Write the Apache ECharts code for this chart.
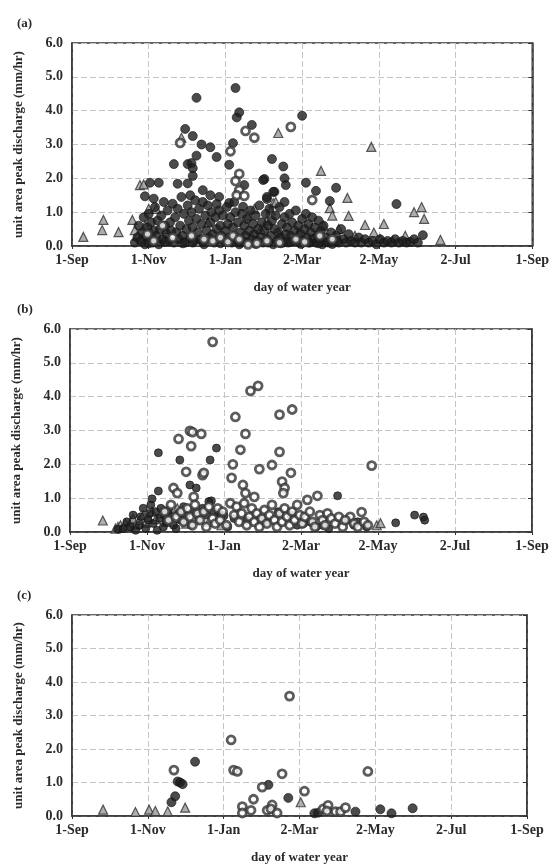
<!DOCTYPE html>
<html>
<head>
<meta charset="utf-8">
<script src="https://cdn.jsdelivr.net/npm/echarts@6/dist/echarts.min.js"></script>
<style>
  html, body { margin: 0; padding: 0; background: #fff; }
  #chart { width: 552px; height: 865px; }
</style>
</head>
<body>
<div id="chart"></div>
<script>
// x axis: day of water year, ticks every 61 days
const xTickLabels = ['1-Sep', '1-Nov', '1-Jan', '2-Mar', '2-May', '2-Jul', '1-Sep'];
const panelLabels = ['(a)', '(b)', '(c)'];

// panel (a) [day, mm/hr]
const aFilled = [
    [62,1.87],[69,1.87],[58,1.47],[65,1.4],[81,2.42],[90,3.46],[96,3.25],[99,4.38],[103,3.0],[110,2.92],
    [115,2.63],[92,2.42],[95,2.45],[96,2.3],[99,2.67],[96,2.07],[92,1.85],[125,2.4],[128,3.04],[130,4.67],
    [131,3.8],[133,3.95],[143,3.58],[137,1.8],[153,1.98],[159,2.57],[183,3.85],[168,2.35],[169,2.0],[170,1.8],
    [152,1.95],[186,1.87],[161,1.6],[194,1.63],[210,1.72],[205,1.33],[155,1.39],[169,1.3],[258,1.24],[279,0.32],
    [84,1.84],[94,1.5],[104,1.65],[110,1.5],[117,1.45],[115,1.24],[125,1.27],[129,1.3],[136,1.16],[155,1.45],[160,1.6],
    [50,0.1],[52,0.25],[53,0.6],[55,0.15],[56,0.4],[57,0.85],[58,0.05],[59,0.3],[60,0.55],[61,0.95],
    [62,0.2],[63,0.7],[64,0.1],[65,0.45],[66,1.15],[67,0.3],[68,0.75],[69,0.05],[70,0.5],[71,0.9],
    [72,0.2],[73,1.3],[74,0.6],[75,0.35],[76,1.05],[77,0.15],[78,0.7],[79,0.45],[80,1.25],[81,0.1],
    [82,0.85],[83,0.4],[84,1.1],[85,0.2],[86,0.6],[87,1.45],[88,0.3],[89,0.95],[90,0.1],[91,0.5],
    [92,1.2],[93,0.75],[94,0.25],[95,1.0],[96,0.55],[97,0.15],[98,1.35],[99,0.8],[100,0.4],[101,1.1],
    [102,0.2],[103,0.65],[104,1.3],[105,0.05],[106,0.9],[107,0.45],[108,1.2],[109,0.25],[110,0.7],[111,1.0],
    [112,0.35],[113,0.1],[114,0.85],[115,0.5],[116,0.2],[117,1.05],[118,0.6],[119,0.3],[120,0.9],[121,0.15],
    [122,0.45],[123,1.15],[124,0.65],[125,0.25],[126,0.85],[127,0.1],[128,0.55],[129,0.3],[130,1.0],[131,0.2],
    [132,0.7],[133,0.05],[134,0.4],[135,0.95],[136,0.15],[137,0.6],[138,0.3],[139,0.8],[140,0.1],[141,0.45],
    [142,1.05],[143,0.2],[144,0.65],[145,0.35],[146,0.9],[147,0.15],[148,0.5],[149,1.2],[150,0.25],[151,0.7],
    [152,0.1],[153,0.45],[154,0.95],[155,0.2],[156,0.6],[157,1.1],[158,0.3],[159,0.75],[160,0.05],[161,0.5],
    [162,0.9],[163,0.15],[164,0.4],[165,1.15],[166,0.25],[167,0.65],[168,0.1],[169,0.85],[170,0.35],[171,0.55],
    [172,0.1],[173,0.95],[174,0.3],[175,0.7],[176,0.15],[177,0.45],[178,1.05],[179,0.2],[180,0.6],[181,0.1],
    [182,0.35],[183,0.8],[184,0.15],[185,0.5],[186,0.95],[187,0.25],[188,0.65],[189,0.1],[190,0.4],[191,0.85],
    [192,0.2],[193,0.55],[194,0.1],[195,0.3],[196,0.75],[197,0.15],[198,0.45],[199,0.05],[200,0.6],[202,0.25],
    [204,0.1],[206,0.4],[208,0.15],[210,0.3],[212,0.1],[214,0.5],[216,0.2],[218,0.1],[220,0.35],[222,0.15],
    [225,0.1],[228,0.25],[230,0.1],[233,0.2],[236,0.1],[239,0.15],[242,0.05],[245,0.2],[248,0.1],[251,0.15],
    [254,0.1],[257,0.2],[260,0.1],[263,0.15],[266,0.1],[269,0.12],[272,0.2],[275,0.1],
    [61,0.08],[74,0.12],[88,0.08],[96,0.1],[104,0.12],[118,0.08],[126,0.14],[134,0.1],[146,0.06],[156,0.1],
    [166,0.08],[174,0.12],[182,0.06],[188,0.1],[196,0.08],[203,0.12],[207,0.06],[211,0.15]
];
const aOpen = [
    [86,3.05],[138,3.4],[145,3.2],[126,2.8],[133,2.13],[130,1.92],[133,1.65],[131,1.5],[137,1.48],[174,3.52],
    [191,1.36],[60,0.35],[65,0.15],[72,0.6],[80,0.25],[95,0.3],[105,0.2],[112,0.15],[118,0.25],[124,0.12],
    [128,0.3],[133,0.2],[140,0.05],[147,0.08],[155,0.15],[165,0.1],[178,0.2],[185,0.12],[197,0.3],[207,0.2]
];
const aTriangle = [
    [9,0.27],[24,0.47],[25,0.77],[37,0.41],[48,0.77],[50,0.47],[54,1.8],[57,1.82],[61,1.1],[67,1.1],
    [87,3.2],[164,3.34],[238,2.93],[198,2.22],[160,1.27],[219,1.42],[272,1.0],[278,1.15],[280,0.8],[293,0.18],
    [220,0.89],[233,0.62],[248,0.65],[205,1.12],[52,0.3],[55,0.2],[58,0.6],[63,0.4],[70,0.15],[75,0.5],
    [100,0.12],[108,0.7],[140,0.9],[145,1.1],[150,0.5],[155,0.75],[158,1.05],[162,1.3],[165,0.35],[180,0.4],
    [200,0.6],[207,0.9],[212,0.5],[225,0.3],[240,0.4],[245,0.2],[255,0.15],[265,0.3]
];

// panel (b)
const bFilled = [
    [38,0.08],[42,0.1],[45,0.3],[48,0.15],[50,0.5],[52,0.05],[55,0.2],[56,0.45],[58,0.7],[60,0.1],
    [62,0.35],[63,0.55],[64,0.8],[65,0.98],[66,0.25],[68,0.6],[69,0.05],[70,2.34],[70,1.21],[71,0.4],
    [72,0.7],[74,0.15],[75,0.5],[76,0.3],[78,0.65],[80,0.45],[82,0.2],[84,0.1],[86,0.55],[87,2.13],
    [88,0.35],[90,0.75],[92,0.5],[95,1.39],[96,0.2],[98,0.6],[100,1.3],[102,0.35],[105,0.7],[108,0.5],
    [110,0.9],[111,2.13],[112,0.92],[114,0.6],[116,2.48],[118,0.55],[120,0.5],[122,0.48],[125,0.15],[130,0.4],
    [140,0.35],[150,0.4],[155,0.3],[165,0.6],[175,0.5],[180,0.2],[185,0.25],[190,0.3],[195,0.15],[200,0.2],
    [205,0.1],[212,1.07],[220,0.35],[225,0.2],[228,0.3],[235,0.15],[258,0.27],[273,0.5],[280,0.44],[281,0.35]
];
const bOpen = [
    [113,5.62],[131,3.4],[143,4.17],[149,4.32],[139,2.9],[135,2.43],[129,2.0],[128,1.6],[150,1.86],[160,1.98],
    [137,1.39],[139,1.15],[146,1.04],[86,2.75],[95,2.99],[97,2.95],[104,2.9],[96,2.54],[92,1.78],[105,1.68],
    [106,1.75],[82,1.3],[85,1.15],[98,1.04],[166,3.47],[176,3.62],[166,2.37],[175,1.75],[239,1.96],[168,1.49],
    [170,1.3],[169,1.15],[196,1.07],[188,0.95],[231,0.59],[222,0.45],
    [75,0.6],[78,0.35],[80,0.8],[84,0.45],[88,0.6],[90,0.3],[93,0.7],[95,0.45],[97,0.2],[99,0.8],
    [101,0.55],[103,0.35],[106,0.6],[108,0.15],[110,0.75],[113,0.4],[115,0.25],[117,0.7],[119,0.35],[121,0.6],
    [124,0.2],[127,0.85],[130,0.5],[132,0.75],[134,0.3],[136,0.55],[138,0.85],[140,0.2],[142,0.45],[144,0.7],
    [146,0.3],[148,0.55],[150,0.15],[152,0.4],[154,0.65],[156,0.25],[158,0.5],[160,0.8],[162,0.35],[164,0.15],
    [166,0.55],[168,0.3],[170,0.7],[172,0.45],[174,0.2],[176,0.6],[178,0.35],[180,0.8],[182,0.5],[184,0.25],
    [186,0.45],[190,0.6],[192,0.3],[194,0.15],[198,0.5],[200,0.35],[202,0.2],[204,0.55],[207,0.4],[210,0.25],
    [213,0.45],[216,0.15],[218,0.35],[225,0.25],[228,0.15],[233,0.3],[236,0.2]
];
const bTriangle = [
    [26,0.34],[36,0.1],[38,0.15],[40,0.2],[42,0.12],[44,0.25],[46,0.18],[48,0.3],[50,0.4],[52,0.22],
    [55,0.35],[58,0.5],[60,0.28],[62,0.45],[65,0.6],[68,0.38],[72,0.55],[76,0.3],[80,0.5],[85,0.7],
    [88,0.4],[92,0.25],[100,0.6],[110,0.3],[120,0.2],[243,0.2],[246,0.26]
];

// panel (c)
const cFilled = [
    [80,0.41],[83,0.59],[85,1.03],[87,1.0],[89,0.95],[99,1.62],[158,0.93],[174,0.54],[195,0.08],[198,0.1],
    [228,0.13],[248,0.2],[257,0.08],[274,0.23]
];
const cOpen = [
    [82,1.37],[128,2.27],[130,1.37],[133,1.33],[137,0.28],[137,0.09],[144,0.17],[146,0.5],[153,0.86],[157,0.17],
    [161,0.33],[160,0.21],[165,0.09],[169,1.26],[175,3.58],[187,0.74],[202,0.21],[206,0.32],[205,0.15],[212,0.13],
    [216,0.13],[220,0.25],[238,1.33]
];
const cTriangle = [
    [25,0.19],[51,0.12],[62,0.19],[67,0.15],[77,0.14],[91,0.25],[184,0.41]
];

const yMin = 0, yMax = 6, yStep = 1;
const xMin = 0, xMax = 366, xStep = 61;

const FONT = '"Liberation Serif", "DejaVu Serif", serif';
const INK = '#2b2b2b';
const GRID_LINE = { color: '#c4c4c4', type: [6, 3], width: 1 };

// pixel boxes of the three plot areas
const grids = [
    { left: 72, top: 43, right: 19, height: 203 },
    { left: 70, top: 329, right: 20, height: 203 },
    { left: 72, top: 615, right: 25, height: 203 },
];
const panelData = [
    [aFilled, aOpen, aTriangle],
    [bFilled, bOpen, bTriangle],
    [cFilled, cOpen, cTriangle],
];

const chart = echarts.init(document.getElementById('chart'), null, { renderer: 'canvas' });

const xAxes = [], yAxes = [], series = [], titles = [];
grids.forEach((g, i) => {
    xAxes.push({
        gridIndex: i, type: 'value', min: xMin, max: xMax, interval: xStep,
        name: 'day of water year', nameLocation: 'middle', nameGap: 35,
        nameTextStyle: { fontFamily: FONT, fontSize: 13, fontWeight: 'bold', color: INK },
        axisLine: { lineStyle: { color: '#333', width: 1.5 } },
        axisTick: { show: true, length: 3, lineStyle: { color: '#333' } },
        axisLabel: {
            fontFamily: FONT, fontSize: 14, fontWeight: 'bold', color: INK, margin: 7,
            formatter: v => xTickLabels[Math.round(v / xStep)] ?? ''
        },
        splitLine: { show: true, lineStyle: GRID_LINE }
    });
    yAxes.push({
        gridIndex: i, type: 'value', min: yMin, max: yMax, interval: yStep,
        name: 'unit area peak discharge (mm/hr)', nameLocation: 'middle', nameGap: 47,
        nameTextStyle: { fontFamily: FONT, fontSize: 13, fontWeight: 'bold', color: INK },
        axisLine: { show: true, lineStyle: { color: '#333', width: 1.5 } },
        axisTick: { show: false },
        axisLabel: {
            fontFamily: FONT, fontSize: 14, fontWeight: 'bold', color: INK, margin: 9,
            formatter: v => v.toFixed(1)
        },
        splitLine: { show: true, lineStyle: GRID_LINE }
    });
    // right-hand frame ticks
    yAxes.push({
        gridIndex: i, type: 'value', position: 'right', min: yMin, max: yMax, interval: yStep,
        axisLine: { show: true, lineStyle: { color: '#333', width: 1.5 } },
        axisTick: { show: true, inside: true, length: 4, lineStyle: { color: '#333' } },
        axisLabel: { show: false },
        splitLine: { show: false }
    });
    titles.push({
        text: panelLabels[i], left: 12, top: g.top - 31,
        textStyle: { fontFamily: FONT, fontSize: 13, fontWeight: 'bold', color: INK }
    });

    const [filled, open, tri] = panelData[i];
    const yIdx = i * 2;
    series.push({
        type: 'scatter', xAxisIndex: i, yAxisIndex: yIdx, data: tri,
        symbol: 'triangle', symbolSize: 9,
        itemStyle: { color: '#9a9a9a', borderColor: '#333', borderWidth: 1.2 }
    });
    series.push({
        type: 'scatter', xAxisIndex: i, yAxisIndex: yIdx, data: filled,
        symbol: 'circle', symbolSize: i === 1 ? 8 : 9,
        itemStyle: { color: '#1e1e1e', borderColor: '#111', borderWidth: 0.8 }
    });
    series.push({
        type: 'scatter', xAxisIndex: i, yAxisIndex: yIdx, data: open,
        symbol: 'circle', symbolSize: 8,
        itemStyle: { color: '#ffffff', borderColor: '#333', borderWidth: 2.8 }
    });
});

chart.setOption({
    animation: false,
    backgroundColor: '#fff',
    title: titles,
    grid: grids.map(g => ({
        left: g.left, top: g.top, right: g.right, height: g.height,
        show: true, borderColor: '#333', borderWidth: 1.5, backgroundColor: 'transparent'
    })),
    xAxis: xAxes,
    yAxis: yAxes,
    series: series
});
</script>
</body>
</html>
